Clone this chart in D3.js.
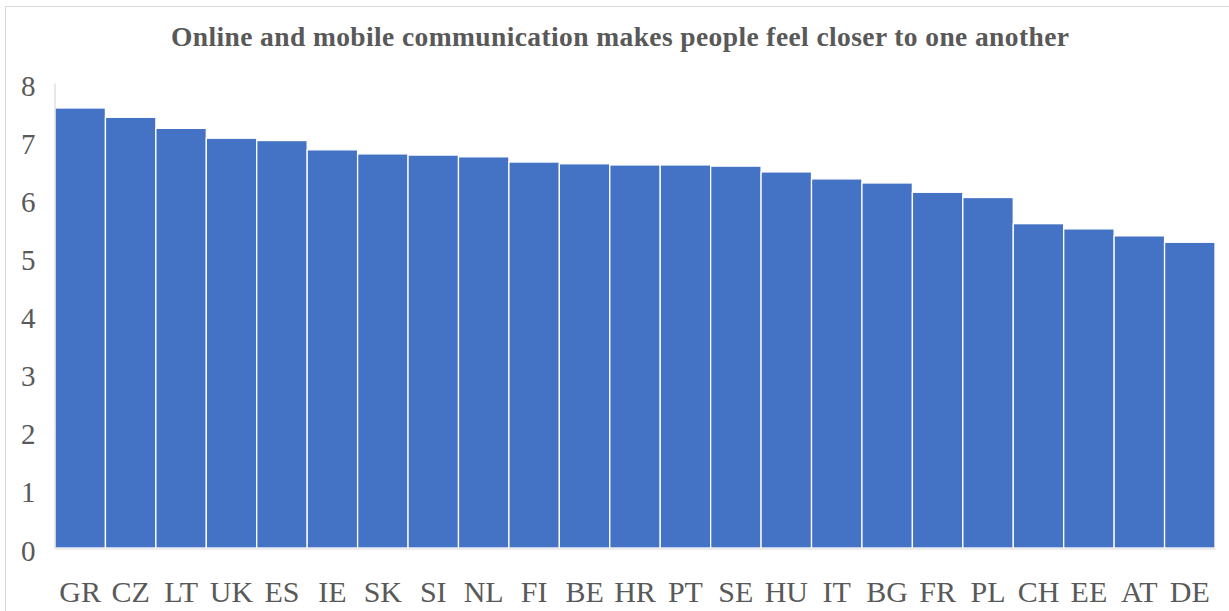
<!DOCTYPE html>
<html>
<head>
<meta charset="utf-8">
<script src="https://cdn.jsdelivr.net/npm/d3@7"></script>
<style>
  html, body { margin: 0; padding: 0; background: #fff; }
  svg { display: block; }
</style>
</head>
<body>
<svg id="chart" width="1229" height="611"></svg>
<script>
// Country codes, ordered from highest to lowest agreement
const countries = ["GR","CZ","LT","UK","ES","IE","SK","SI","NL","FI","BE","HR","PT","SE","HU","IT","BG","FR","PL","CH","EE","AT","DE"];
// Mean score per country
const scores = [7.57,7.41,7.22,7.05,7.01,6.85,6.78,6.76,6.73,6.64,6.61,6.59,6.59,6.57,6.47,6.35,6.28,6.12,6.03,5.58,5.49,5.37,5.26];
// Value axis ticks
const yTicks = [0,1,2,3,4,5,6,7,8];
const chartTitle = "Online and mobile communication makes people feel closer to one another";

const data = countries.map((c, i) => ({ country: c, value: scores[i] }));

const W = 1229, H = 611;
const plot = { left: 55, right: 1215, top: 83, bottom: 548 };
const textColor = "#595959";
const serif = "'Liberation Serif', 'Times New Roman', serif";

const svg = d3.select("#chart");

// Outer chart frame
svg.append("rect")
  .attr("x", 5.5).attr("y", 6.5)
  .attr("width", W + 10).attr("height", H + 10)
  .attr("fill", "#fff")
  .attr("stroke", "#d9d9d9")
  .attr("stroke-width", 1);

const x = d3.scaleBand()
  .domain(countries)
  .range([plot.left, plot.right])
  .paddingInner(0)
  .paddingOuter(0);

const y = d3.scaleLinear()
  .domain([0, 8])
  .range([plot.bottom, plot.top]);

// Bars
svg.append("g")
  .selectAll("rect")
  .data(data)
  .join("rect")
  .attr("x", d => x(d.country))
  .attr("y", d => y(d.value))
  .attr("width", x.bandwidth())
  .attr("height", d => y(0) - y(d.value))
  .attr("fill", "#4472c4")
  .attr("stroke", "#ffffff")
  .attr("stroke-width", 1.3);

// Value axis
const yAxis = svg.append("g")
  .attr("transform", `translate(${plot.left - 0.5},0)`)
  .call(d3.axisLeft(y).tickValues(yTicks).tickSize(0).tickSizeOuter(0).tickPadding(19).tickFormat(d3.format("d")));
yAxis.select(".domain").attr("stroke", "#d9d9d9").attr("stroke-width", 1.2);
yAxis.selectAll("text")
  .attr("dy", null)
  .attr("y", 12)
  .attr("fill", textColor)
  .style("font-family", serif)
  .style("font-size", "29px");

// Category axis
const xAxis = svg.append("g")
  .attr("transform", `translate(0,${plot.bottom + 0.5})`)
  .call(d3.axisBottom(x).tickSize(0).tickSizeOuter(0));
xAxis.select(".domain").attr("stroke", "#d9d9d9").attr("stroke-width", 1.2);
xAxis.selectAll("text")
  .attr("dy", null)
  .attr("y", 53)
  .attr("fill", textColor)
  .style("font-family", serif)
  .style("font-size", "30px");

// Title
svg.append("text")
  .attr("x", 171)
  .attr("y", 46)
  .attr("textLength", 898)
  .attr("lengthAdjust", "spacing")
  .attr("fill", textColor)
  .style("font-family", serif)
  .style("font-weight", "bold")
  .style("font-size", "27.5px")
  .text(chartTitle);
</script>
</body>
</html>
